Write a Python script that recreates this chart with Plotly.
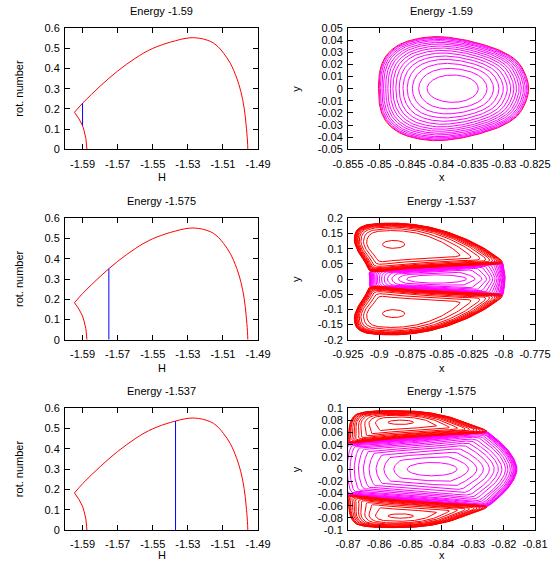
import numpy as np
import plotly.graph_objects as go

W, HT = 555, 563
RED, MAGENTA, BLUE = "#ff0000", "#ff00ff", "#0000ff"
FONT = "Liberation Sans, Arial, sans-serif"

# ---------------- rotation number versus H ----------------
H_lower = [-1.5875, -1.5877, -1.5881, -1.5891, -1.5900, -1.5920, -1.5946]
rot_lower = [0.0, 0.025, 0.054, 0.091, 0.117, 0.150, 0.183]

H_upper = [-1.5946, -1.5900, -1.5850, -1.5800, -1.5750, -1.5700, -1.5650,
           -1.5600, -1.5550, -1.5500, -1.5450, -1.5400, -1.5370, -1.5340,
           -1.5310, -1.5275, -1.5240, -1.5209, -1.5172, -1.5153, -1.5125,
           -1.5096, -1.5058, -1.5021, -1.4998, -1.4979, -1.4968, -1.4960,
           -1.4958]
rot_upper = [0.183, 0.228, 0.271, 0.312, 0.351, 0.387, 0.420,
             0.450, 0.477, 0.499, 0.516, 0.530, 0.537, 0.544,
             0.549, 0.552, 0.550, 0.545, 0.534, 0.525, 0.505,
             0.475, 0.426, 0.352, 0.287, 0.205, 0.123, 0.041,
             0.0]

left_energy = [-1.59, -1.575, -1.537]
cut_bottom = [0.117, 0.0, 0.0]
cut_top = [0.228, 0.351, 0.537]

H_ticks = [-1.59, -1.57, -1.55, -1.53, -1.51, -1.49]
H_labels = ["-1.59", "-1.57", "-1.55", "-1.53", "-1.51", "-1.49"]
rot_ticks = [0, 0.1, 0.2, 0.3, 0.4, 0.5, 0.6]
rot_labels = ["0", "0.1", "0.2", "0.3", "0.4", "0.5", "0.6"]

# ---------------- Poincare sections ----------------
# Each family of invariant curves: centre, innermost ellipse semi-axes,
# outermost orbit outline, and the levels of the curves between them
# (0 = innermost ellipse, 1 = outermost orbit).

# Energy -1.59
s1_center = (-0.8382, 0.0)
s1_inner = (0.0041, 0.0113)
s1_out_x = [-0.8260, -0.8265, -0.8278, -0.8302, -0.8340, -0.8377, -0.8410,
            -0.8442, -0.8469, -0.8488, -0.8498, -0.8501, -0.8498, -0.8488,
            -0.8469, -0.8442, -0.8410, -0.8377, -0.8340, -0.8302, -0.8278,
            -0.8265]
s1_out_y = [0.0, 0.0113, 0.0223, 0.0305, 0.0374, 0.0415, 0.0429,
            0.0409, 0.0360, 0.0277, 0.0168, 0.0, -0.0168, -0.0277,
            -0.0360, -0.0409, -0.0429, -0.0415, -0.0374, -0.0305, -0.0223,
            -0.0113]
s1_levels_magenta = [0, 0.174, 0.304, 0.409, 0.496, 0.574, 0.643, 0.704,
                     0.757, 0.809, 0.852, 0.896, 0.93, 0.962, 0.985]
s1_levels_red = [1.0]
s1_x_ticks = [-0.855, -0.85, -0.845, -0.84, -0.835, -0.83, -0.825]
s1_x_labels = ["-0.855", "-0.85", "-0.845", "-0.84", "-0.835", "-0.83", "-0.825"]
s1_y_ticks = [-0.05, -0.04, -0.03, -0.02, -0.01, 0, 0.01, 0.02, 0.03, 0.04, 0.05]
s1_y_labels = ["-0.05", "-0.04", "-0.03", "-0.02", "-0.01", "0",
               "0.01", "0.02", "0.03", "0.04", "0.05"]

# Energy -1.537
s2_band_center = (-0.854, 0.0)
s2_band_inner = (0.024, 0.0137)
s2_band_x = [-0.7990, -0.7995, -0.8003, -0.8011, -0.8300, -0.8600, -0.8850,
             -0.9073, -0.9075, -0.9073, -0.8850, -0.8600, -0.8300, -0.8011,
             -0.8003, -0.7995]
s2_band_y = [0.0, 0.020, 0.040, 0.0527, 0.0452, 0.0374, 0.0310,
             0.0253, 0.0, -0.0253, -0.0310, -0.0374, -0.0452, -0.0527,
             -0.040, -0.020]
s2_band_levels = [0, 0.22, 0.40, 0.52, 0.61, 0.68, 0.74, 0.79, 0.83, 0.865,
                  0.895, 0.92, 0.94, 0.955, 0.967, 0.977, 0.985, 0.991, 0.996, 1.0]
s2_island_center = (-0.8884, 0.114)
s2_island_inner = (0.0089, 0.013)
s2_lobe_x = [-0.9073, -0.9113, -0.9167, -0.9199, -0.9180, -0.9113, -0.8978,
             -0.8790, -0.8602, -0.8414, -0.8226, -0.8091, -0.8011, -0.8300,
             -0.8600, -0.8850]
s2_lobe_y = [0.0270, 0.0560, 0.0890, 0.1275, 0.1604, 0.1770, 0.1835,
             0.1824, 0.1714, 0.1495, 0.1165, 0.0835, 0.0540, 0.0465,
             0.0388, 0.0324]
s2_island_levels = [0, 0.57, 0.68, 0.77, 0.83, 0.87, 0.90, 0.925, 0.945,
                    0.96, 0.972, 0.982, 0.991, 1.0]
s2_x_ticks = [-0.925, -0.9, -0.875, -0.85, -0.825, -0.8, -0.775]
s2_x_labels = ["-0.925", "-0.9", "-0.875", "-0.85", "-0.825", "-0.8", "-0.775"]
s2_y_ticks = [-0.2, -0.15, -0.1, -0.05, 0, 0.05, 0.1, 0.15, 0.2]
s2_y_labels = ["-0.2", "-0.15", "-0.1", "-0.05", "0", "0.05", "0.1", "0.15", "0.2"]

# Energy -1.575
s3_band_center = (-0.843, 0.0)
s3_band_inner = (0.008, 0.011)
s3_band_x = [-0.8158, -0.8168, -0.8195, -0.8225, -0.8254, -0.8400, -0.8550,
             -0.8700, -0.8725, -0.8725, -0.8700, -0.8550, -0.8400, -0.8254,
             -0.8225, -0.8195, -0.8168]
s3_band_y = [0.0, 0.017, 0.0363, 0.050, 0.061, 0.0552, 0.0493,
             0.0434, 0.0424, -0.0424, -0.0434, -0.0493, -0.0552, -0.061,
             -0.050, -0.0363, -0.017]
s3_band_levels = [0, 0.19, 0.33, 0.44, 0.54, 0.62, 0.69, 0.75, 0.81, 0.85,
                  0.89, 0.92, 0.94, 0.955, 0.97, 0.978, 0.985, 0.991, 0.996, 1.0]
s3_island_center = (-0.8531, 0.077)
s3_island_inner = (0.0041, 0.0036)
s3_lobe_x = [-0.8700, -0.8697, -0.8694, -0.8678, -0.8645, -0.8549, -0.8442,
             -0.8356, -0.8292, -0.8254, -0.8400, -0.8475, -0.8550, -0.8625]
s3_lobe_y = [0.0445, 0.0555, 0.0747, 0.0885, 0.0940, 0.0962, 0.0929,
             0.0830, 0.0709, 0.0620, 0.0562, 0.0533, 0.0503, 0.0474]
s3_island_levels = [0, 0.33, 0.50, 0.61, 0.71, 0.77, 0.83, 0.87, 0.91,
                    0.95, 0.97, 0.99, 1.0]
s3_x_ticks = [-0.87, -0.86, -0.85, -0.84, -0.83, -0.82, -0.81]
s3_x_labels = ["-0.87", "-0.86", "-0.85", "-0.84", "-0.83", "-0.82", "-0.81"]
s3_y_ticks = [-0.1, -0.08, -0.06, -0.04, -0.02, 0, 0.02, 0.04, 0.06, 0.08, 0.1]
s3_y_labels = ["-0.1", "-0.08", "-0.06", "-0.04", "-0.02", "0",
               "0.02", "0.04", "0.06", "0.08", "0.1"]

# ---------------- layout geometry (pixels) ----------------
COLS = [(65, 258), (348, 535)]
ROWS = [(28, 149.3), (218.3, 339.7), (408.3, 530)]


def px_x(p):
    return p / W


def px_y(p):
    return 1 - p / HT


def smooth_closed(px, py, per_seg=24, alpha=0.5):
    """Centripetal Catmull-Rom curve through a closed list of points."""
    P = np.stack([px, py], axis=1)
    n = len(P)
    out = []
    for i in range(n):
        p0, p1, p2, p3 = P[(i - 1) % n], P[i], P[(i + 1) % n], P[(i + 2) % n]
        t0 = 0.0
        t1 = t0 + max(np.linalg.norm(p1 - p0), 1e-9) ** alpha
        t2 = t1 + max(np.linalg.norm(p2 - p1), 1e-9) ** alpha
        t3 = t2 + max(np.linalg.norm(p3 - p2), 1e-9) ** alpha
        t = np.linspace(t1, t2, per_seg, endpoint=False)[:, None]
        a1 = (t1 - t) / (t1 - t0) * p0 + (t - t0) / (t1 - t0) * p1
        a2 = (t2 - t) / (t2 - t1) * p1 + (t - t1) / (t2 - t1) * p2
        a3 = (t3 - t) / (t3 - t2) * p2 + (t - t2) / (t3 - t2) * p3
        b1 = (t2 - t) / (t2 - t0) * a1 + (t - t0) / (t2 - t0) * a2
        b2 = (t3 - t) / (t3 - t1) * a2 + (t - t1) / (t3 - t1) * a3
        out.append((t2 - t) / (t2 - t1) * b1 + (t - t1) / (t2 - t1) * b2)
    D = np.vstack(out)
    return D[:, 0], D[:, 1]


def family(center, inner, out_x, out_y, levels, sx, sy, flip=False, n=400):
    """Closed curves between an inner ellipse and an outer outline,
    separated by None so one trace draws the whole family."""
    cx, cy = center
    ox = (np.asarray(out_x) - cx) / sx
    oy = (np.asarray(out_y) - cy) / sy
    ox, oy = smooth_closed(ox, oy)
    ang = np.arctan2(oy, ox)
    rad = np.hypot(ox, oy)
    order = np.argsort(ang)
    ang, rad = ang[order], rad[order]
    th = np.linspace(-np.pi, np.pi, n)
    r_out = np.interp(th, ang, rad, period=2 * np.pi)
    a, b = inner[0] / sx, inner[1] / sy
    r_in = a * b / np.sqrt((b * np.cos(th)) ** 2 + (a * np.sin(th)) ** 2)
    xs, ys = [], []
    for t in levels:
        r = (1 - t) * r_in + t * r_out
        x = cx + r * np.cos(th) * sx
        y = cy + r * np.sin(th) * sy
        if flip:
            y = -y
        xs += list(x) + [None]
        ys += list(y) + [None]
    return xs, ys


fig = go.Figure()


def add_line(x, y, color, k, width=1.0, shape="linear"):
    fig.add_trace(go.Scatter(x=x, y=y, mode="lines",
                             line=dict(color=color, width=width, shape=shape),
                             xaxis=f"x{k}", yaxis=f"y{k}",
                             hoverinfo="skip", showlegend=False))


# left column: rotation number curves
for i in range(3):
    k = 2 * i + 1
    add_line(H_lower, rot_lower, RED, k)
    add_line(H_upper, rot_upper, RED, k, shape="spline")
    add_line([left_energy[i], left_energy[i]], [cut_bottom[i], cut_top[i]], BLUE, k)

# pixel scales used to spread curve samples evenly on screen
col_w = COLS[1][1] - COLS[1][0]
row_h = ROWS[0][1] - ROWS[0][0]

# Energy -1.59 section
sx, sy = 0.03 / col_w, 0.1 / row_h
x, y = family(s1_center, s1_inner, s1_out_x, s1_out_y, s1_levels_red, sx, sy)
add_line(x, y, RED, 2)
x, y = family(s1_center, s1_inner, s1_out_x, s1_out_y, s1_levels_magenta, sx, sy)
add_line(x, y, MAGENTA, 2)

# Energy -1.537 section
sx, sy = 0.15 / col_w, 0.4 / row_h
x, y = family(s2_band_center, s2_band_inner, s2_band_x, s2_band_y,
              s2_band_levels, sx, sy)
add_line(x, y, MAGENTA, 4)
for flip in (False, True):
    x, y = family(s2_island_center, s2_island_inner, s2_lobe_x, s2_lobe_y,
                  s2_island_levels, sx, sy, flip=flip)
    add_line(x, y, RED, 4)

# Energy -1.575 section
sx, sy = 0.06 / col_w, 0.2 / row_h
x, y = family(s3_band_center, s3_band_inner, s3_band_x, s3_band_y,
              s3_band_levels, sx, sy)
add_line(x, y, MAGENTA, 6)
for flip in (False, True):
    x, y = family(s3_island_center, s3_island_inner, s3_lobe_x, s3_lobe_y,
                  s3_island_levels, sx, sy, flip=flip)
    add_line(x, y, RED, 6)


def frame_axis(rng, vals, labels, domain, anchor, is_x):
    return dict(range=rng, domain=domain, anchor=anchor,
                tickmode="array", tickvals=vals, ticktext=labels,
                ticks="inside", ticklen=5, tickcolor="black", tickwidth=1,
                showline=True, linecolor="black", linewidth=1,
                mirror="allticks", showgrid=False, zeroline=False,
                tickangle=0, automargin=False,
                ticklabelstandoff=4 if is_x else 2,
                tickfont=dict(family=FONT, size=11, color="black"),
                fixedrange=True)


specs = {
    1: ([-1.6, -1.49], H_ticks, H_labels, [0, 0.6], rot_ticks, rot_labels),
    3: ([-1.6, -1.49], H_ticks, H_labels, [0, 0.6], rot_ticks, rot_labels),
    5: ([-1.6, -1.49], H_ticks, H_labels, [0, 0.6], rot_ticks, rot_labels),
    2: ([-0.855, -0.825], s1_x_ticks, s1_x_labels, [-0.05, 0.05], s1_y_ticks, s1_y_labels),
    4: ([-0.925, -0.775], s2_x_ticks, s2_x_labels, [-0.2, 0.2], s2_y_ticks, s2_y_labels),
    6: ([-0.87, -0.81], s3_x_ticks, s3_x_labels, [-0.1, 0.1], s3_y_ticks, s3_y_labels),
}

layout_axes = {}
for k, (xr, xv, xl, yr, yv, yl) in specs.items():
    row = (k - 1) // 2
    col = (k - 1) % 2
    xd = [px_x(COLS[col][0]), px_x(COLS[col][1])]
    yd = [px_y(ROWS[row][1]), px_y(ROWS[row][0])]
    layout_axes[f"xaxis{k}"] = frame_axis(xr, xv, xl, xd, f"y{k}", True)
    layout_axes[f"yaxis{k}"] = frame_axis(yr, yv, yl, yd, f"x{k}", False)

left_titles = ["Energy -1.59", "Energy -1.575", "Energy -1.537"]
right_titles = ["Energy -1.59", "Energy -1.537", "Energy -1.575"]

annotations = []


def text(s, xp, yp, angle=0):
    annotations.append(dict(text=s, x=px_x(xp), y=px_y(yp), xref="paper",
                            yref="paper", showarrow=False, textangle=angle,
                            xanchor="center", yanchor="middle", borderpad=0,
                            font=dict(family=FONT, size=11, color="black")))


for row in range(3):
    top, bottom = ROWS[row]
    mid_y = (top + bottom) / 2
    for col, titles, xlab, ylab, ylab_x in (
            (0, left_titles, "H", "rot. number", 19),
            (1, right_titles, "x", "y", 296)):
        mid_x = (COLS[col][0] + COLS[col][1]) / 2
        text(titles[row], mid_x, top - 17)
        text(xlab, mid_x, min(bottom + 28, HT - 8))
        text(ylab, ylab_x, mid_y, angle=-90)

fig.update_layout(width=W, height=HT,
                  margin=dict(l=0, r=0, t=0, b=0, pad=0, autoexpand=False),
                  paper_bgcolor="white", plot_bgcolor="white",
                  showlegend=False,
                  annotations=annotations, **layout_axes)

fig.write_html("out.html")
